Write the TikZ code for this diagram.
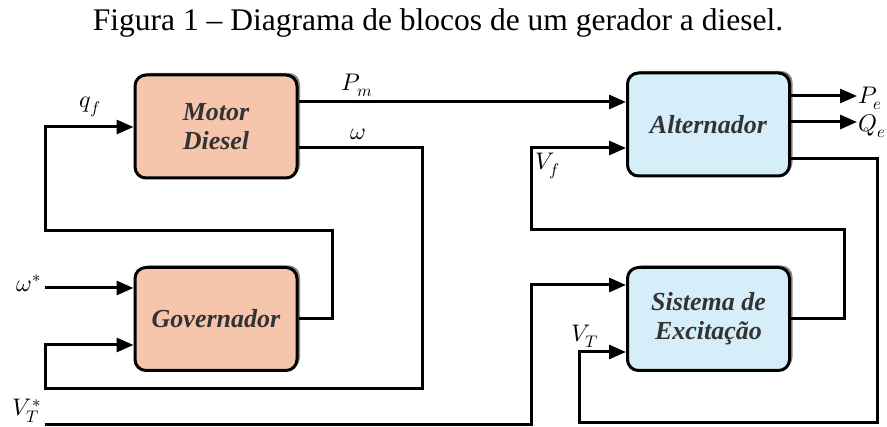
\documentclass[tikz,border=0pt]{standalone}
\usepackage{fontspec}
\setmainfont{Liberation Serif}
\newfontfamily\tmsfont{Liberation Serif}
\usepackage{unicode-math}
\setmathfont{Latin Modern Math}
\usetikzlibrary{arrows.meta}
\definecolor{peach}{HTML}{F5C6AC}
\definecolor{skyb}{HTML}{D6EEF9}
\definecolor{boxtxt}{HTML}{333333}
\definecolor{shad}{HTML}{8A8A8A}
\tikzset{
  blockbox/.style={draw=black, line width=3pt, rounded corners=11pt,
    minimum width=162pt, minimum height=103pt, align=center,
    font=\tmsfont\fontsize{26}{29}\selectfont\bfseries\itshape, text=boxtxt,
    inner sep=0pt},
  shadowbox/.style={fill=shad, rounded corners=11pt,
    minimum width=162pt, minimum height=103pt, inner sep=0pt},
  wire/.style={line width=3pt, line join=miter},
  arr/.style={wire, -{Triangle[length=17pt,width=14pt]}},
  lbl/.style={font=\fontsize{24}{26}\selectfont, inner sep=0pt},
}
\begin{document}
\begin{tikzpicture}[x=1pt,y=-1pt]
\useasboundingbox (0,0) rectangle (887,427);
\node[font=\tmsfont\fontsize{31.5}{34}\selectfont] (title) at (438,23) {Figura 1 – Diagrama de blocos de um gerador a diesel.};
% shadows
\node[shadowbox] (mds) at (219,124.5) {};
\node[shadowbox] (govs) at (219,317) {};
\node[shadowbox] (alts) at (711.5,122.5) {};
\node[shadowbox] (excs) at (711.5,317) {};
% blocks
\node[blockbox, fill=peach] (md) at (216,126.5) {Motor\\Diesel};
\node[blockbox, fill=peach] (gov) at (216,319) {Governador};
\node[blockbox, fill=skyb] (alt) at (708.5,124.5) {Alternador};
\node[blockbox, fill=skyb] (exc) at (708.5,319) {Sistema de\\Excitação};
% free ends
\coordinate (wst) at (45,288);
\coordinate (vts) at (45,425);
\coordinate (pe) at (857,96);
\coordinate (qe) at (857,122);
% connectors
\draw[arr] (md.east |- 0,102) -- (alt.west |- 0,102);
\draw[arr] (md.east |- 0,148) -- (422,148) -- (422,389) -- (45,389) -- (45,345) -- (gov.west |- 0,345);
\draw[arr] (gov.east |- 0,319) -- (332,319) -- (332,231) -- (45,231) -- (45,127) -- (md.west |- 0,127);
\draw[arr] (wst) -- (gov.west |- wst);
\draw[arr] (vts) -- (531,425) -- (531,285) -- (exc.west |- 0,285);
\draw[arr] (exc.east |- 0,319) -- (844,319) -- (844,230) -- (531,230) -- (531,148) -- (alt.west |- 0,148);
\draw[arr] (alt.east |- pe) -- (pe);
\draw[arr] (alt.east |- qe) -- (qe);
\draw[arr] (alt.east |- 0,159) -- (877,159) -- (877,423) -- (579,423) -- (579,352) -- (exc.west |- 0,352);
% labels
\node[lbl] (lqf) at (90,107) {$q_f$};
\node[lbl] (lpm) at (357,85) {$P_m$};
\node[lbl] (lw) at (358,134) {$\omega$};
\node[lbl] (lws) at (29,283) {$\omega^*$};
\node[lbl] (lvts) at (27,411) {$V_T^*$};
\node[lbl] (lvf) at (548,166) {$V_f$};
\node[lbl] (lvt) at (585,336) {$V_T$};
\node[lbl, anchor=west] (lpe) at (858,98) {$P_e$};
\node[lbl, anchor=west] (lqe) at (858,126) {$Q_e$};
\end{tikzpicture}
\end{document}
